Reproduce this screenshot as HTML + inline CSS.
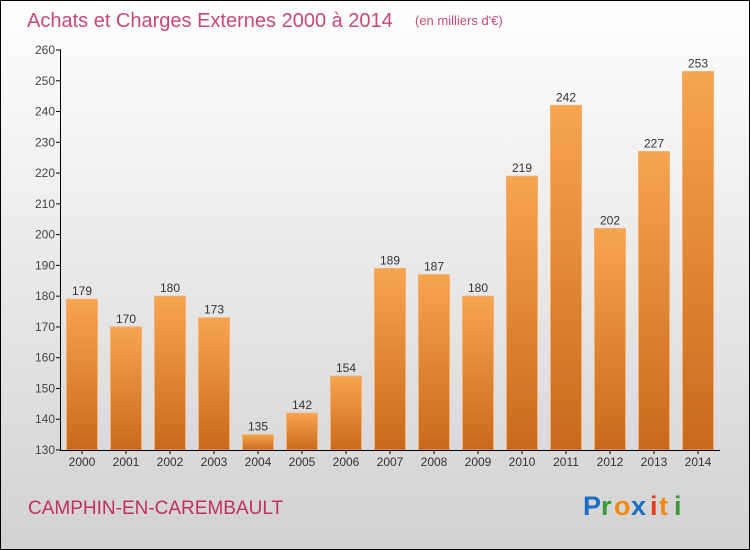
<!DOCTYPE html>
<html><head><meta charset="utf-8"><style>
body{margin:0}
#c{width:750px;height:550px;position:relative;box-sizing:border-box;border:1px solid #000;background:linear-gradient(#fff,#d2d2d2);font-family:"Liberation Sans",sans-serif;overflow:hidden}
</style></head><body>
<div id="c">
<svg id="s" width="750" height="550" style="position:absolute;left:-1px;top:-1px">
<defs><linearGradient id="g" x1="0" y1="0" x2="0" y2="1"><stop offset="0" stop-color="#f7a54f"/><stop offset="1" stop-color="#c86a1c"/></linearGradient></defs>
<text x="27" y="27" font-size="20" fill="#c8487a">Achats et Charges Externes 2000 à 2014</text>
<text x="415" y="25" font-size="13" fill="#c8487a">(en milliers d'€)</text>
<text x="28" y="514" font-size="19" fill="#c2305f">CAMPHIN-EN-CAREMBAULT</text>
<g font-size="27" font-weight="bold" font-family="Liberation Sans, sans-serif">
<text x="583" y="515" fill="#1a6fc4">P</text><text x="601" y="515" fill="#3a9a3a">r</text><text x="614" y="515" fill="#f08a12">o</text><text x="631" y="515" fill="#1a6fc4">x</text><text x="650" y="515" fill="#e53b1b">i</text><text x="659" y="515" fill="#f08a12">t</text><text x="674" y="515" fill="#3a9a3a">i</text></g>
<g id="plot"></g>
</svg>
</div>
<script>
const years=["2000","2001","2002","2003","2004","2005","2006","2007","2008","2009","2010","2011","2012","2013","2014"];
const values=[179,170,180,173,135,142,154,189,187,180,219,242,202,227,253];
const ticks=[130,140,150,160,170,180,190,200,210,220,230,240,250,260];
const NS="http://www.w3.org/2000/svg",p=document.getElementById('plot');
const y=v=>450-(v-130)*400/130, x=i=>82+i*44;
function mk(t,a,txt){const e=document.createElementNS(NS,t);for(const k in a)e.setAttribute(k,a[k]);if(txt!==undefined)e.textContent=txt;p.appendChild(e);return e;}
ticks.forEach(t=>{
 const l=mk('line',{x1:56,x2:61,y1:y(t),y2:y(t),stroke:'#000'});
 
 
 const tx=mk('text',{x:55,y:y(t)+4,'font-size':12,'text-anchor':'end',fill:'#444'},t);
 
 
});
values.forEach((v,i)=>{
 const r=mk('rect',{x:x(i)-15.5,y:y(v),width:31,height:450-y(v),fill:'url(#g)',stroke:'#f4b070','stroke-width':1});
 
 
 const lb=mk('text',{x:x(i),y:y(v)-4,'font-size':12,'text-anchor':'middle',fill:'#333'},v);
 
 
 const xl=mk('text',{x:x(i),y:466,'font-size':12,'text-anchor':'middle',fill:'#333'},years[i]);
 
 
 const tk=mk('line',{x1:x(i),x2:x(i),y1:450,y2:454,stroke:'#000'});
 
 
});
const ya=mk('line',{x1:60.5,x2:60.5,y1:y(260),y2:451,stroke:'#000'});


const xa=mk('line',{x1:60,x2:720,y1:450.5,y2:450.5,stroke:'#000'});


</script>
</body></html>
